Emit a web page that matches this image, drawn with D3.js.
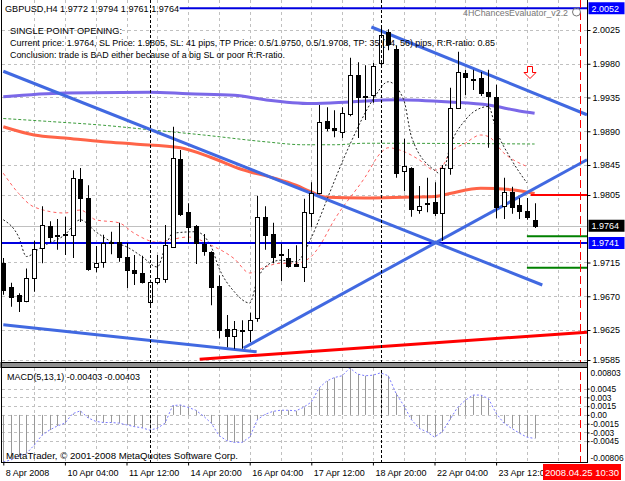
<!DOCTYPE html>
<html><head><meta charset="utf-8">
<script src="https://cdn.jsdelivr.net/npm/d3@7"></script>
<style>body{margin:0;background:#fff}svg{display:block}text{font-family:"Liberation Sans",Arial,sans-serif}</style>
</head><body><svg id="c" width="625" height="481"></svg>
<script>
// ---- DATA ----
const barOpen  = [1.9714,1.9682,1.9672,1.9663,1.9694,1.9734,1.9764,1.9750,1.9752,1.9752,1.9826,1.9801,1.9709,1.9716,1.9740,1.9742,1.9722,1.9705,1.9701,1.9662,1.9689,1.9692,1.9736,1.9853,1.9782,1.9764,1.9740,1.9729,1.9684,1.9626,1.9617,1.9624,1.9625,1.9641,1.9776,1.9753,1.9724,1.9721,1.9713,1.9709,1.9781,1.9808,1.9904,1.9894,1.9889,1.9913,1.9965,1.9936,1.9938,1.9980,2.0022,2.0000,1.9836,1.9841,1.9785,1.9792,1.9796,1.9781,1.9841,1.9921,1.9968,1.9960,1.9961,1.9942,1.9936,1.9790,1.9809,1.9792,1.9784,1.9772];
const barHigh  = [1.9721,1.9688,1.9674,1.9707,1.9744,1.9790,1.9770,1.9773,1.9776,1.9838,1.9841,1.9818,1.9737,1.9752,1.9756,1.9768,1.9741,1.9725,1.9724,1.9692,1.9725,1.9765,1.9896,1.9865,1.9794,1.9765,1.9753,1.9730,1.9698,1.9645,1.9637,1.9638,1.9648,1.9804,1.9790,1.9768,1.9740,1.9733,1.9738,1.9800,1.9822,1.9925,1.9922,1.9918,1.9922,1.9988,1.9982,1.9978,1.9981,2.0030,2.0026,2.0004,1.9880,1.9842,1.9817,1.9828,1.9822,1.9845,1.9948,1.9996,1.9972,1.9972,1.9969,1.9972,1.9952,1.9828,1.9816,1.9801,1.9801,1.9794];
const barLow   = [1.9672,1.9656,1.9649,1.9662,1.9676,1.9714,1.9741,1.9732,1.9725,1.9721,1.9769,1.9704,1.9702,1.9708,1.9726,1.9716,1.9681,1.9685,1.9687,1.9656,1.9686,1.9688,1.9735,1.9777,1.9741,1.9713,1.9724,1.9658,1.9614,1.9602,1.9600,1.9600,1.9609,1.9636,1.9732,1.9714,1.9690,1.9708,1.9709,1.9689,1.9762,1.9806,1.9890,1.9882,1.9881,1.9910,1.9881,1.9905,1.9928,1.9977,1.9998,1.9828,1.9810,1.9776,1.9780,1.9782,1.9777,1.9744,1.9832,1.9920,1.9938,1.9945,1.9937,1.9868,1.9774,1.9773,1.9780,1.9773,1.9772,1.9761];
const barClose = [1.9678,1.9669,1.9664,1.9694,1.9733,1.9765,1.9749,1.9751,1.9753,1.9828,1.9801,1.9706,1.9714,1.9741,1.9742,1.9722,1.9705,1.9701,1.9689,1.9689,1.9694,1.9738,1.9854,1.9780,1.9762,1.9741,1.9731,1.9682,1.9625,1.9616,1.9626,1.9625,1.9638,1.9776,1.9752,1.9722,1.9726,1.9710,1.9710,1.9782,1.9808,1.9902,1.9894,1.9891,1.9914,1.9965,1.9936,1.9937,1.9977,2.0018,2.0006,1.9834,1.9843,1.9786,1.9790,1.9794,1.9781,1.9841,1.9921,1.9969,1.9962,1.9959,1.9941,1.9936,1.9789,1.9809,1.9789,1.9784,1.9776,1.9764];
const macdValues = [-0.00806,-0.0077,-0.0071,-0.0066,-0.0052,-0.0035,-0.0026,-0.0019,-0.0014,0.0002,0.0007,-0.0005,-0.0011,-0.0013,-0.0013,-0.0014,-0.0017,-0.0020,-0.0022,-0.0026,-0.0023,-0.0014,0.0016,0.0017,0.0013,0.0008,-0.0002,-0.0014,-0.0035,-0.0044,-0.0047,-0.0047,-0.0038,-0.0008,0.0001,0.0006,0.0008,0.0008,0.0007,0.0013,0.0022,0.0046,0.0058,0.0064,0.0067,0.00803,0.0070,0.0067,0.0068,0.0072,0.0067,0.0037,0.0016,-0.0008,-0.0023,-0.0029,-0.0038,-0.0029,-0.0008,0.0013,0.0025,0.0034,0.0034,0.0028,0.0003,-0.0014,-0.0023,-0.0031,-0.0038,-0.00403];
// moving averages: [bar index, price]
const maPurple = [[0,1.9936],[8,1.9941],[19,1.9942],[24,1.9940],[30,1.9938],[34,1.9932],[40,1.9927],[45,1.9929],[51,1.9932],[58,1.9929],[63,1.9925],[67,1.9917],[69,1.9914]];
const maOrange = [[0,1.9896],[4,1.9885],[8,1.9881],[13,1.9876],[17,1.9873],[23,1.9868],[27,1.9855],[31,1.9839],[35,1.9828],[38,1.9818],[40,1.9809],[42,1.9802],[47,1.9801],[52,1.9802],[56,1.9803],[58,1.9807],[62,1.9814],[66,1.9812],[69,1.9807]];
const maGreen = [[0,1.9907],[6,1.9903],[13,1.9898],[19,1.9892],[26,1.9885],[34,1.9876],[39,1.9872],[43,1.9872],[47,1.9874],[69,1.9873]];
const maSalmon = [[0,1.9834],[2,1.9807],[4,1.9789],[8,1.9781],[10,1.9785],[12,1.9772],[15,1.9768],[17,1.9754],[20,1.9742],[22,1.9746],[24,1.9749],[27,1.9738],[30,1.9720],[32,1.9701],[34,1.9709],[36,1.9714],[38,1.9714],[40,1.9723],[41,1.9736],[43,1.9772],[47,1.9829],[49,1.9861],[50,1.9868],[52,1.9863],[54,1.9852],[56,1.9838],[57,1.9843],[58,1.9861],[60,1.9874],[62,1.9885],[63,1.9883],[65,1.9861],[68,1.9843]];
const maBlack = [[0,1.9772],[2,1.9749],[3,1.9723],[5,1.9736],[8,1.9752],[10,1.9772],[12,1.9756],[14,1.9743],[16,1.9736],[18,1.9723],[20,1.9709],[21,1.9734],[22,1.9754],[25,1.9756],[27,1.9736],[28,1.9708],[30,1.9676],[32,1.9661],[33,1.9692],[34,1.9709],[36,1.9718],[38,1.9716],[40,1.9748],[41,1.9772],[42,1.9798],[45,1.9872],[48,1.9932],[50,1.9956],[52,1.9932],[53,1.9883],[56,1.9838],[57,1.9832],[58,1.9869],[60,1.9905],[62,1.9921],[63,1.9923],[64,1.9892],[66,1.9852],[68,1.9821]];
// trend lines: [bar1, price1, bar2, price2]
const blueTrends = [[0,1.9970,70,1.9685],[47.8,2.0029,75.8,1.9912],[31.2,1.9601,75.8,1.9852],[0,1.9632,32.9,1.9596]];
const redTrend = [25.5,1.9586,75.8,1.9622];
// horizontal levels: [fromBar, price]
const blueLevels = [[22.9,2.0054],[-1,1.9741]];
const redLevel = [68.5,1.9805];
const greenLevels = [[68,1.9750],[68,1.9708]];
const bidPrice = 1.9764;
const separatorBars = [19,49];
const markerBar = 74.9;
const priceTicks = [2.0025,1.9980,1.9935,1.9890,1.9845,1.9805,1.9715,1.9670,1.9625,1.9585];
const macdTicks = [0.00803,0.0045,0.003,0.0015,0,-0.0015,-0.003,-0.0045,-0.00806];
const macdTickLabels = ["0.00803","0.0045","0.003","0.0015","0.00","-0.0015","-0.003","-0.0045","-0.00806"];
const timeIdx = [0,8,16,24,32,40,48,56,64];
const timeLabels = ["8 Apr 2008","10 Apr 04:00","11 Apr 12:00","14 Apr 20:00","16 Apr 04:00","17 Apr 12:00","18 Apr 20:00","22 Apr 04:00","23 Apr 12:00"];
const boxLabels = [[2.0054,"2.0052","#0000ff"],[1.9764,"1.9764","#000000"],[1.9741,"1.9741","#0000ff"]];

// ---- DRAW ----
const svg = d3.select("#c");
const x = d3.scaleLinear().domain([0,69]).range([3.3,534.6]);
const y = d3.scaleLinear().domain([2.0025,1.9585]).range([30,360]);
const yM = d3.scaleLinear().domain([0.00803,-0.00806]).range([368,462]);
const R = 587.5, MB = 362.5;
const defs = svg.append("defs");
defs.append("clipPath").attr("id","cm").append("rect").attr("x",2).attr("y",0).attr("width",R-2).attr("height",MB);
defs.append("clipPath").attr("id","cd").append("rect").attr("x",2).attr("y",368).attr("width",R-2).attr("height",94);
const main = svg.append("g").attr("clip-path","url(#cm)");
const md = svg.append("g").attr("clip-path","url(#cd)");
const px = v => Math.round(v)+0.5;

// grids
const gridX = d3.range(4,73,4);
[main,md].forEach((g,k)=>{
  g.selectAll(null).data(gridX).join("line").attr("x1",d=>px(x(d))).attr("x2",d=>px(x(d)))
   .attr("y1",k?368:0).attr("y2",k?462:MB).attr("stroke","#c0c0c0").attr("stroke-dasharray","3,3");
});
main.selectAll(null).data(priceTicks).join("line").attr("x1",2).attr("x2",R).attr("y1",d=>px(y(d))).attr("y2",d=>px(y(d)))
  .attr("stroke","#c0c0c0").attr("stroke-dasharray","3,3");
md.selectAll(null).data(macdTicks.slice(1,-1)).join("line").attr("x1",2).attr("x2",R).attr("y1",d=>px(yM(d))).attr("y2",d=>px(yM(d)))
  .attr("stroke","#c0c0c0").attr("stroke-dasharray","3,3");
// separators
svg.selectAll(null).data(separatorBars).join("line").attr("x1",d=>px(x(d))).attr("x2",d=>px(x(d))).attr("y1",0).attr("y2",462)
  .attr("stroke","#000").attr("stroke-dasharray","3,2");
// bid line
main.append("line").attr("x1",2).attr("x2",R).attr("y1",px(y(bidPrice))).attr("y2",px(y(bidPrice))).attr("stroke","#c0c0c0");

const ln = d3.line().x(d=>x(d[0])).y(d=>y(d[1])).curve(d3.curveMonotoneX);
main.append("path").attr("d",ln(maGreen)).attr("fill","none").attr("stroke","#3c9c3c").attr("stroke-dasharray","3,2");
main.append("path").attr("d",ln(maPurple)).attr("fill","none").attr("stroke","#7b68e8").attr("stroke-width",3);
main.append("path").attr("d",ln(maOrange)).attr("fill","none").attr("stroke","#ff6448").attr("stroke-width",3);
main.append("path").attr("d",ln(maSalmon)).attr("fill","none").attr("stroke","#ff6060").attr("stroke-dasharray","3,3");
main.append("path").attr("d",ln(maBlack)).attr("fill","none").attr("stroke","#222").attr("stroke-dasharray","2,2");

// levels
blueLevels.forEach(d=>main.append("line").attr("x1",x(d[0])).attr("x2",R).attr("y1",y(d[1])).attr("y2",y(d[1])).attr("stroke","#0000e0").attr("stroke-width",2));
main.append("line").attr("x1",x(redLevel[0])).attr("x2",R).attr("y1",y(redLevel[1])).attr("y2",y(redLevel[1])).attr("stroke","#ff0000").attr("stroke-width",2);
greenLevels.forEach(d=>main.append("line").attr("x1",x(d[0])).attr("x2",R).attr("y1",y(d[1])).attr("y2",y(d[1])).attr("stroke","#008000").attr("stroke-width",2));
// trends
blueTrends.forEach(t=>main.append("line").attr("x1",x(t[0])).attr("y1",y(t[1])).attr("x2",x(t[2])).attr("y2",y(t[3])).attr("stroke","#4169e1").attr("stroke-width",3));
main.append("line").attr("x1",x(redTrend[0])).attr("y1",y(redTrend[1])).attr("x2",x(redTrend[2])).attr("y2",y(redTrend[3])).attr("stroke","#ff0000").attr("stroke-width",3);

// candles
const idx = d3.range(barOpen.length);
main.selectAll(null).data(idx).join("line").attr("x1",i=>px(x(i))).attr("x2",i=>px(x(i)))
  .attr("y1",i=>y(barHigh[i])).attr("y2",i=>y(barLow[i])).attr("stroke","#000");
main.selectAll(null).data(idx).join("rect")
  .attr("x",i=>Math.round(x(i))-2+0.5).attr("width",4)
  .attr("y",i=>Math.round(Math.min(y(barOpen[i]),y(barClose[i])))+0.5)
  .attr("height",i=>Math.max(0.01,Math.round(Math.abs(y(barOpen[i])-y(barClose[i])))))
  .attr("fill",i=>barClose[i]>=barOpen[i]?"#fff":"#000").attr("stroke","#000");

// arrow
main.append("path").attr("d","M527.5,66.5h5v6h3.5l-6,6l-6,-6h3.5z").attr("fill","#fff").attr("stroke","#ff0000");

// MACD
md.selectAll(null).data(idx).join("line").attr("x1",i=>px(x(i))).attr("x2",i=>px(x(i)))
  .attr("y1",yM(0)).attr("y2",i=>yM(macdValues[i])).attr("stroke","#999");
md.append("path").attr("d",d3.line().x((d,i)=>x(i)).y(d=>yM(d))(macdValues)).attr("fill","none")
  .attr("stroke","#7a7aff").attr("stroke-dasharray","2,2");

// marker
svg.append("line").attr("x1",px(x(markerBar))).attr("x2",px(x(markerBar))).attr("y1",0).attr("y2",463)
  .attr("stroke","#ff0000").attr("stroke-dasharray","8,4");

// frames
svg.append("rect").attr("x",1).attr("y",362.5).attr("width",R-1).attr("height",5).attr("fill","#909090").attr("stroke","#000");
svg.append("line").attr("x1",1.5).attr("x2",1.5).attr("y1",0).attr("y2",463).attr("stroke","#000");
svg.append("line").attr("x1",R).attr("x2",R).attr("y1",0).attr("y2",463).attr("stroke","#000");
svg.append("line").attr("x1",1).attr("x2",R).attr("y1",462.5).attr("y2",462.5).attr("stroke","#000");

// axes
const pa = svg.append("g").attr("transform",`translate(${R},0)`)
  .call(d3.axisRight(y).tickValues(priceTicks).tickFormat(d3.format(".4f")).tickSize(3).tickPadding(2));
const ma = svg.append("g").attr("transform",`translate(${R},0)`)
  .call(d3.axisRight(yM).tickValues(macdTicks).tickFormat((d,i)=>macdTickLabels[i]).tickSize(2).tickPadding(1));
ma.selectAll(".tick").filter((d,i)=>i===0).select("text").attr("dy","0.9em");
ma.selectAll(".tick").filter((d,i)=>i===0).select("line").remove();
ma.selectAll(".tick").filter((d,i)=>i===macdTicks.length-1).select("line").remove();
ma.selectAll(".tick").filter((d,i)=>i===macdTicks.length-1).select("text").attr("dy","-0.2em");
const ta = svg.append("g").attr("transform","translate(0,462.5)")
  .call(d3.axisBottom(x).tickValues(timeIdx).tickFormat((d,i)=>timeLabels[i]).tickSize(3).tickPadding(2));
ta.selectAll("text").attr("text-anchor","start").attr("dx","2").attr("dy","0.9em");
[pa,ma,ta].forEach(g=>{g.select(".domain").remove();g.attr("font-family",null).attr("font-size",null);
  g.selectAll("text").attr("font-size",9).attr("fill","#000");g.selectAll(".tick line").attr("stroke","#000");});
ma.selectAll("text").attr("font-size",8.4);

// boxed price labels
boxLabels.forEach(b=>{
  const cy=y(b[0]);
  svg.append("rect").attr("x",R+1).attr("y",cy-6).attr("width",36).attr("height",12).attr("fill",b[2]);
  svg.append("text").attr("x",R+4).attr("y",cy+3.3).attr("font-size",9).attr("fill","#fff").text(b[1]);
});
// date box
svg.append("rect").attr("x",543).attr("y",464).attr("width",78).attr("height",16).attr("fill","#ff0000");
svg.append("text").attr("x",582).attr("y",475.5).attr("text-anchor","middle").attr("font-size",9.5).attr("fill","#fff").text("2008.04.25 10:30");

// texts
const T=(t,xx,yy,len,col,fs)=>svg.append("text").attr("x",xx).attr("y",yy).attr("font-size",fs||9.5).attr("fill",col||"#000")
  .attr("textLength",len).attr("lengthAdjust","spacingAndGlyphs").text(t);
T("GBPUSD,H4  1.9772 1.9794 1.9761 1.9764",5,12,174);
T("SINGLE POINT OPENING:",10,33.5,112);
T("Current price: 1.9764, SL Price: 1.9805, SL: 41 pips, TP Price: 0.5/1.9750, 0.5/1.9708, TP: 35 (14, 56) pips, R:R-ratio: 0.85",10,46,485);
T("Conclusion: trade is BAD either because of a big SL or poor R:R-ratio.",10,58,275);
T("4HChancesEvaluator_v2.2",463,16,105,"#777");
svg.append("circle").attr("cx",576.5).attr("cy",12).attr("r",4).attr("fill","none").attr("stroke","#777");
T("MACD(5,13,1) -0.00403 -0.00403",7,380,133);
T("MetaTrader, © 2001-2008 MetaQuotes Software Corp.",6,459,232);
</script></body></html>
